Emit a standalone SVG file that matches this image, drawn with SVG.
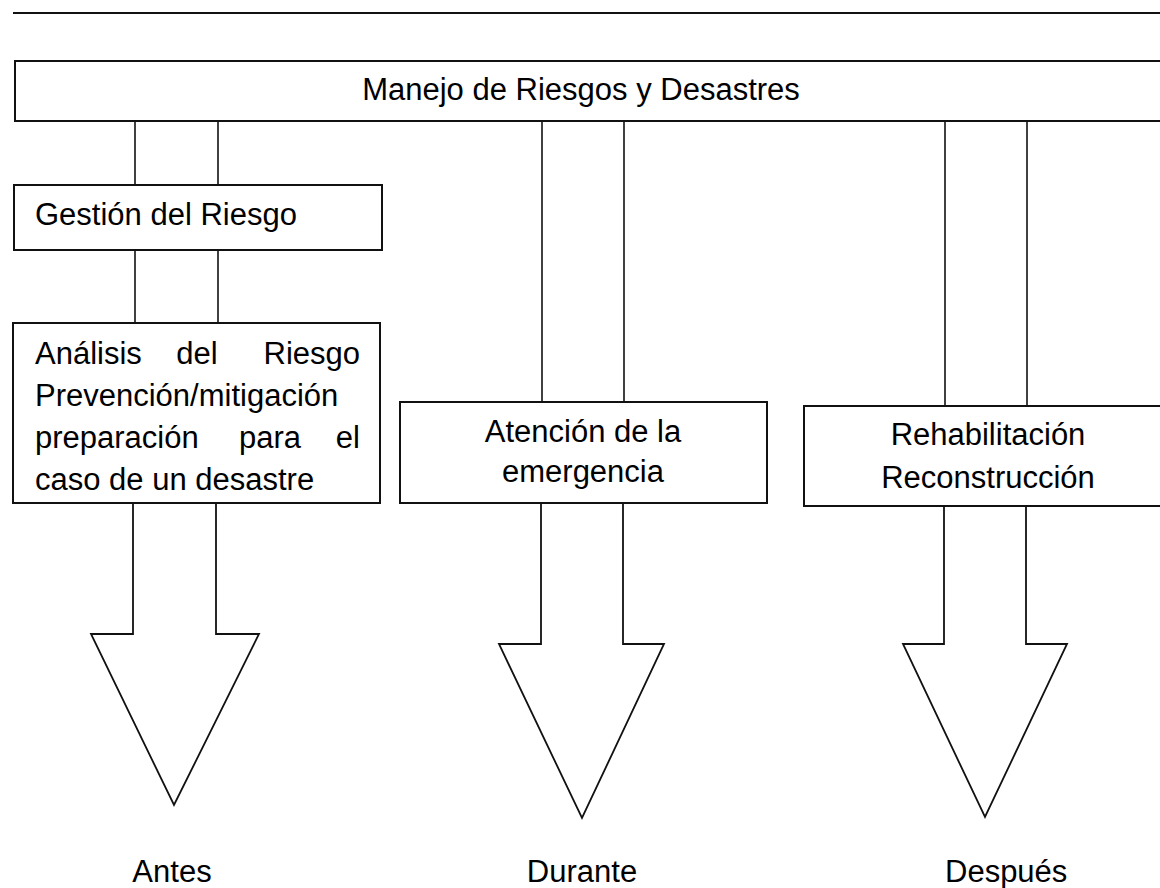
<svg xmlns="http://www.w3.org/2000/svg" width="1160" height="888" viewBox="0 0 1160 888">
<style>
.box{fill:#fff;stroke:#111;stroke-width:2}
.ln{fill:none;stroke:#111;stroke-width:1.6}
.arw{fill:#fff;stroke:#111;stroke-width:1.8;stroke-linejoin:miter}
text{font-family:"Liberation Sans",Arial,sans-serif;font-size:31px;fill:#000}
.c{text-anchor:middle}
.e{text-anchor:end}
</style>
<rect width="1160" height="888" fill="#fff"/>
<line x1="13" y1="13" x2="1160" y2="13" stroke="#111" stroke-width="2"/>
<g id="connectors">
<line class="ln" x1="135" y1="121" x2="135" y2="185"/>
<line class="ln" x1="218" y1="121" x2="218" y2="185"/>
<line class="ln" x1="135" y1="250" x2="135" y2="323"/>
<line class="ln" x1="218" y1="250" x2="218" y2="323"/>
<line class="ln" x1="542" y1="121" x2="542" y2="402"/>
<line class="ln" x1="624" y1="121" x2="624" y2="402"/>
<line class="ln" x1="945" y1="121" x2="945" y2="406"/>
<line class="ln" x1="1027" y1="121" x2="1027" y2="406"/>
<polyline class="arw" points="133,503 133,634 91,634 174,805 259,634 216,634 216,503"/>
<polyline class="arw" points="541,503 541,644 499,644 582,818 664,644 623,644 623,503"/>
<polyline class="arw" points="944,506 944,644 903,644 985,817 1067,644 1026,644 1026,506"/>
</g>
<g id="manejo">
<rect class="box" x="15" y="61" width="1150" height="60"/>
<text class="c" x="581" y="100">Manejo de Riesgos y Desastres</text>
</g>
<g id="gestion">
<rect class="box" x="14" y="185" width="368" height="65"/>
<text x="35" y="225">Gestión del Riesgo</text>
</g>
<g id="analisis">
<rect class="box" x="13" y="323" width="367" height="180"/>
<text x="35" y="364">Análisis</text>
<text class="c" x="197" y="364">del</text>
<text class="e" x="360" y="364">Riesgo</text>
<text x="35" y="406">Prevención/mitigación</text>
<text x="35" y="448">preparación</text>
<text class="c" x="270" y="448">para</text>
<text class="e" x="360" y="448">el</text>
<text x="35" y="490">caso de un desastre</text>
</g>
<g id="atencion">
<rect class="box" x="400" y="402" width="367" height="101"/>
<text class="c" x="583" y="442">Atención de la</text>
<text class="c" x="583" y="482">emergencia</text>
</g>
<g id="rehabilitacion">
<rect class="box" x="804" y="406" width="360" height="100"/>
<text class="c" x="988" y="445">Rehabilitación</text>
<text class="c" x="988" y="488">Reconstrucción</text>
</g>
<g id="antes"><text class="c" x="172" y="882">Antes</text></g>
<g id="durante"><text class="c" x="582" y="882">Durante</text></g>
<g id="despues"><text x="945" y="882">Después</text></g>
</svg>
